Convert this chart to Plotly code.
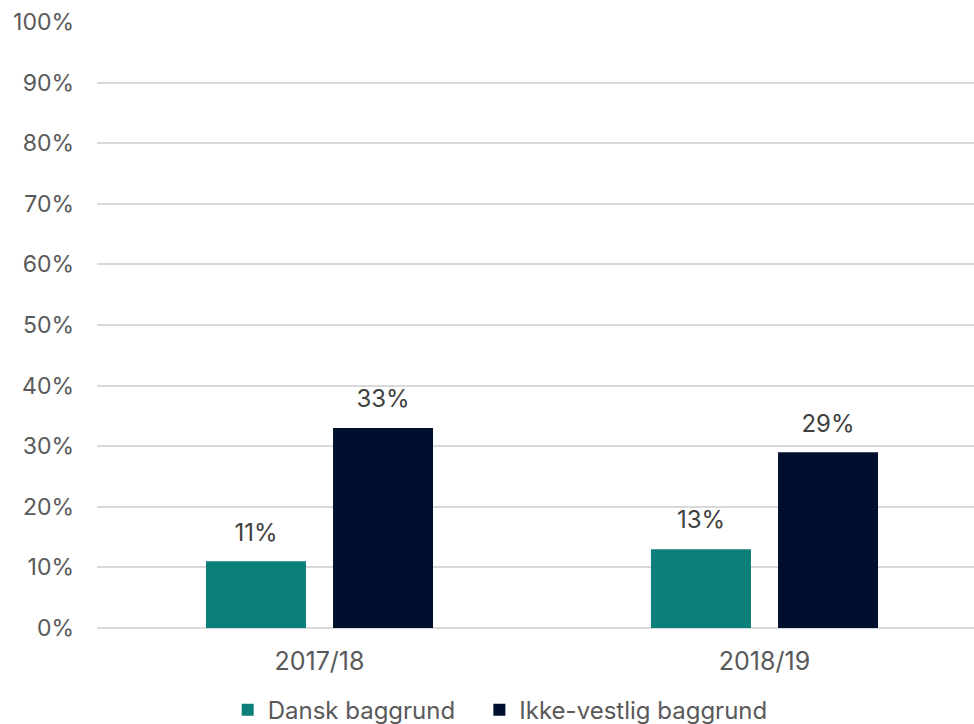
import plotly.graph_objects as go

# Andel pr. skoleår og baggrund
categories = ["2017/18", "2018/19"]
series_names = ["Dansk baggrund", "Ikke-vestlig baggrund"]
dansk = [11, 13]
ikke_vestlig = [33, 29]
y_ticks = [0, 10, 20, 30, 40, 50, 60, 70, 80, 90, 100]

colors = ["#0b7f7a", "#000f2e"]
font_family = "Inter, Lato, sans-serif"
text_color = "#595959"
legend_ids = ["legend", "legend2"]

fig = go.Figure()
for i, (name, vals, col) in enumerate(zip(series_names, [dansk, ikke_vestlig], colors)):
    fig.add_trace(go.Bar(
        x=categories,
        y=vals,
        name=name,
        offsetgroup=str(i),
        legend=legend_ids[i],
        marker=dict(color=col, line=dict(width=0)),
    ))
    # value labels, aligned with the bar of the same group
    fig.add_trace(go.Scatter(
        x=categories,
        y=vals,
        mode="markers+text",
        offsetgroup=str(i),
        marker=dict(size=22, opacity=0),
        text=[f"{v}%" for v in vals],
        textposition="top center",
        textfont=dict(size=24, color="#404040", family=font_family),
        showlegend=False,
        hoverinfo="skip",
        cliponaxis=False,
    ))

legend_style = dict(
    orientation="h",
    xanchor="left",
    yref="container", y=0.019, yanchor="middle",
    font=dict(size=24, color=text_color),
    itemwidth=30,
    bgcolor="rgba(0,0,0,0)",
)

fig.update_layout(
    width=974,
    height=724,
    margin=dict(l=97, r=0, t=22, b=96),
    paper_bgcolor="white",
    plot_bgcolor="white",
    barmode="group",
    scattermode="group",
    bargap=0.429,
    bargroupgap=0.213,
    font=dict(family=font_family, color=text_color, size=22),
    showlegend=True,
    legend=dict(x=0.149, **legend_style),
    legend2=dict(x=0.436, **legend_style),
)

fig.update_yaxes(
    range=[0, 100],
    tickvals=y_ticks,
    ticktext=[f"{t}%" for t in y_ticks],
    showgrid=True,
    gridcolor="#d9d9d9",
    gridwidth=1.5,
    zeroline=True,
    zerolinecolor="#d9d9d9",
    zerolinewidth=1.5,
    showline=False,
    ticks="",
    ticklabelstandoff=22,
    tickfont=dict(size=23, color=text_color),
)

fig.update_xaxes(
    range=[-0.5, 1.4708],
    showgrid=False,
    showline=False,
    ticks="",
    ticklabelstandoff=16,
    tickfont=dict(size=25, color=text_color),
)

fig.write_html("out.html")
